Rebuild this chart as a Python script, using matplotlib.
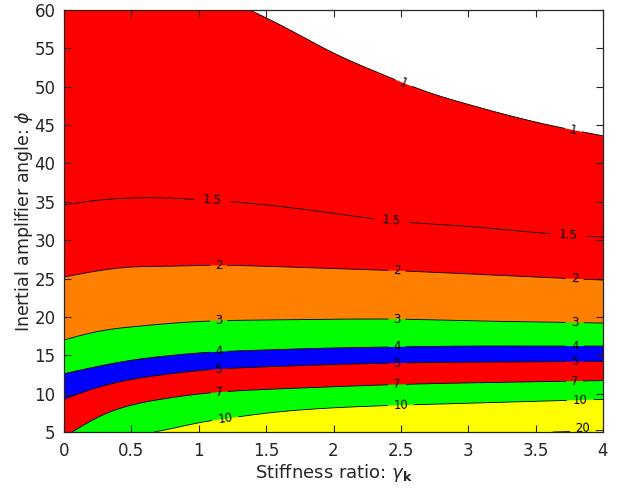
import numpy as np
import matplotlib
matplotlib.use("Agg")
import matplotlib.pyplot as plt
from matplotlib.patches import Polygon

# ---- data: contour curves phi(gamma_k) for each level ----
g_full = [0, 0.25, 0.5, 0.75, 1, 1.5, 2, 2.5, 3, 3.5, 4]

lvl1_g = [1.38, 1.6, 2.0, 2.35, 2.7, 3.0, 3.5, 4.0]
lvl1_p = [60, 58.1, 54.4, 51.7, 49.3, 47.7, 45.4, 43.6]

lvl15_g = g_full
lvl15_p = [34.6, 35.2, 35.5, 35.5, 35.3, 34.6, 33.5, 32.4, 31.8, 31.0, 30.4]

lvl2_g = g_full
lvl2_p = [25.2, 26.0, 26.5, 26.6, 26.7, 26.6, 26.3, 26.0, 25.6, 25.2, 24.8]

lvl3_g = g_full
lvl3_p = [17.0, 18.1, 18.7, 19.1, 19.4, 19.6, 19.7, 19.7, 19.5, 19.35, 19.2]

lvl4_g = g_full
lvl4_p = [12.6, 13.55, 14.35, 14.9, 15.3, 15.7, 15.95, 16.1, 16.2, 16.2, 16.2]

lvl5_g = g_full
lvl5_p = [9.3, 10.8, 11.85, 12.5, 13.0, 13.5, 13.8, 14.0, 14.1, 14.15, 14.2]

lvl7_g = [0.06, 0.25, 0.5, 0.75, 1, 1.5, 2, 2.5, 3, 3.5, 4]
lvl7_p = [5.0, 6.9, 8.5, 9.35, 9.95, 10.55, 10.9, 11.2, 11.4, 11.55, 11.7]

lvl10_g = [0.67, 0.8, 1.0, 1.2, 1.5, 2, 2.5, 3, 3.5, 4]
lvl10_p = [5.0, 5.45, 6.2, 6.75, 7.45, 8.15, 8.5, 8.75, 9.0, 9.25]

lvl20_g = [3.63, 4]
lvl20_p = [5.0, 5.2]

levels = ["1", "1.5", "2", "3", "4", "5", "7", "10", "20"]
curves = [(lvl1_g, lvl1_p), (lvl15_g, lvl15_p), (lvl2_g, lvl2_p), (lvl3_g, lvl3_p),
          (lvl4_g, lvl4_p), (lvl5_g, lvl5_p), (lvl7_g, lvl7_p), (lvl10_g, lvl10_p),
          (lvl20_g, lvl20_p)]
label_pos = [[2.52, 3.78], [1.1, 2.43, 3.74], [1.15, 2.47, 3.79], [1.15, 2.47, 3.79],
             [1.15, 2.47, 3.79], [1.15, 2.47, 3.79], [1.15, 2.47, 3.79],
             [1.2, 2.5, 3.83], [3.85]]

xticks = [0, 0.5, 1, 1.5, 2, 2.5, 3, 3.5, 4]
xticklabels = ["0", "0.5", "1", "1.5", "2", "2.5", "3", "3.5", "4"]
yticks = [5, 10, 15, 20, 25, 30, 35, 40, 45, 50, 55, 60]

XMIN, XMAX, YMIN, YMAX = 0, 4, 5, 60


def smooth(x, y, n=600):
    """Natural cubic spline through the read points (for drawing only)."""
    x = np.asarray(x, float)
    y = np.asarray(y, float)
    xd = np.linspace(x[0], x[-1], n)
    if len(x) < 3:
        return xd, np.interp(xd, x, y)
    m = len(x)
    h = np.diff(x)
    A = np.zeros((m, m))
    b = np.zeros(m)
    A[0, 0] = A[-1, -1] = 1
    for i in range(1, m - 1):
        A[i, i - 1] = h[i - 1]
        A[i, i] = 2 * (h[i - 1] + h[i])
        A[i, i + 1] = h[i]
        b[i] = 6 * ((y[i + 1] - y[i]) / h[i] - (y[i] - y[i - 1]) / h[i - 1])
    M = np.linalg.solve(A, b)
    idx = np.clip(np.searchsorted(x, xd) - 1, 0, m - 2)
    x0, x1 = x[idx], x[idx + 1]
    hh = x1 - x0
    t0, t1 = x1 - xd, xd - x0
    yd = (M[idx] * t0**3 / (6 * hh) + M[idx + 1] * t1**3 / (6 * hh)
          + (y[idx] / hh - M[idx] * hh / 6) * t0 + (y[idx + 1] / hh - M[idx + 1] * hh / 6) * t1)
    return xd, yd


fig = plt.figure(figsize=(6.17, 4.95), dpi=100)
ax = fig.add_axes([64/617, 63/495, 539/617, 422/495])
ax.set_xlim(XMIN, XMAX)
ax.set_ylim(YMIN, YMAX)
ax.set_facecolor("#FFFF00")

dense = {lvl: smooth(g, p) for lvl, (g, p) in zip(levels, curves)}

# painter's algorithm: fill region "above" each curve (smaller values)
fills = [("10", "#00FF00"), ("7", "#FF0000"), ("5", "#0000FF"), ("4", "#00FF00"),
         ("3", "#FF8000"), ("2", "#FF0000"), ("1", "#FFFFFF")]
for lvl, col in fills:
    gd, pd = dense[lvl]
    pts = [(XMAX, YMAX), (XMIN, YMAX)]
    if gd[0] > XMIN and pd[0] <= YMIN + 1e-9:
        pts.append((XMIN, YMIN))
    pts += list(zip(gd, pd))
    ax.add_patch(Polygon(pts, closed=True, facecolor=col, edgecolor="none", zorder=1))

# contour lines with label gaps
px_per_x = 539 / (XMAX - XMIN)
px_per_y = 422 / (YMAX - YMIN)
for lvl, lpos in zip(levels, label_pos):
    gd, pd = dense[lvl]
    half = (len(lvl) * 4.6 + 4) / px_per_x
    mask = np.zeros_like(gd, bool)
    for gl in lpos:
        mask |= np.abs(gd - gl) < half
    pm = pd.copy()
    pm[mask] = np.nan
    ax.plot(gd, pm, color="black", lw=0.6, zorder=3)
    for gl in lpos:
        yl = np.interp(gl, gd, pd)
        dg = 0.03
        slope = (np.interp(gl + dg, gd, pd) - np.interp(gl - dg, gd, pd)) / (2 * dg)
        ang = np.degrees(np.arctan(slope * px_per_y / px_per_x))
        yl_draw = max(yl, YMIN + 0.45)
        ax.text(gl, yl_draw, lvl, fontsize=8.5, ha="center", va="center",
                rotation=ang, rotation_mode="anchor", color="black", zorder=4)

ax.set_xticks(xticks)
ax.set_xticklabels(xticklabels)
ax.set_yticks(yticks)
ax.tick_params(direction="in", length=5, width=0.8, top=True, right=True,
               labelsize=12, colors="#262626")
ax.tick_params(axis="x", pad=7)
ax.tick_params(axis="y", pad=6)
for s in ax.spines.values():
    s.set_color("#262626")
    s.set_linewidth(0.9)
    s.set_zorder(5)

ax.set_xlabel(r"Stiffness ratio: $\gamma_\mathbf{k}$", fontsize=13, color="#262626", labelpad=2)
ax.set_ylabel(r"Inertial amplifier angle: $\phi$", fontsize=12.5, color="#262626", labelpad=0)

fig.savefig("out.png", dpi=100)
